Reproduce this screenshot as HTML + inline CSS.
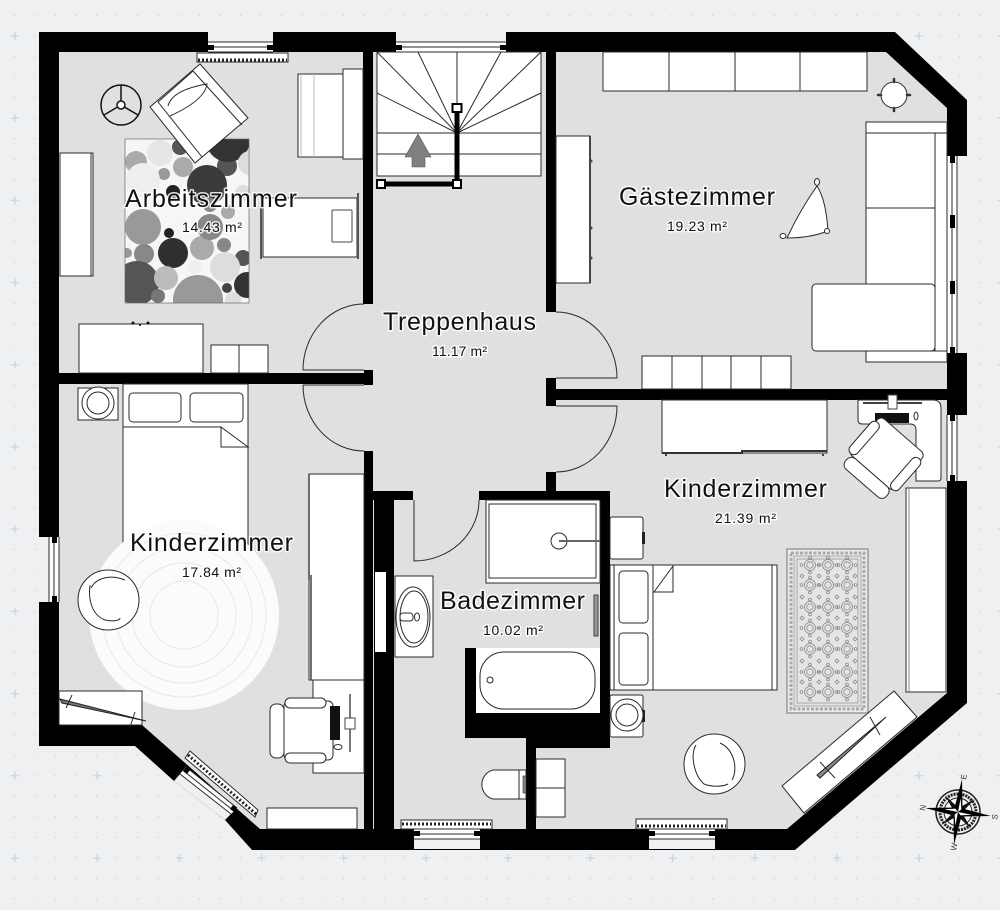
<!DOCTYPE html>
<html><head><meta charset="utf-8"><style>
html,body{margin:0;padding:0;background:#eff0f2;width:1000px;height:910px;overflow:hidden}
svg{display:block}
.f{fill:#fff;stroke:#2a2a2a;stroke-width:1}
.n{fill:none;stroke:#2a2a2a;stroke-width:1}
.t{font-family:"Liberation Sans",sans-serif;fill:#111;stroke:#fff;stroke-width:3;stroke-opacity:.85;paint-order:stroke;stroke-linejoin:round}
.b{font-size:25px}.s{font-size:14px}
.c{font-family:"Liberation Sans",sans-serif;font-size:8px;fill:#333}
</style></head><body>
<svg width="1000" height="910" viewBox="0 0 1000 910" xmlns="http://www.w3.org/2000/svg">
<defs>
<pattern id="dots" width="20.55" height="20.55" patternUnits="userSpaceOnUse" x="4" y="5"><circle cx="10.3" cy="10.3" r=".8" fill="#cfd2d4"/></pattern>
<pattern id="plus" width="82.2" height="82.2" patternUnits="userSpaceOnUse" x="-26" y="-5"><path d="M41 37V45M37 41H45" stroke="#c6d5e8" stroke-width="1.3"/></pattern>
<clipPath id="rc"><rect x="125" y="139" width="124" height="164"/></clipPath>
<g id="med" fill="none" stroke="#8a8a8a" stroke-width=".8"><circle r="5.5"/><circle r="3.2"/><circle cx="-8.500" r="1.400"/><circle cx="8.500" r="1.400"/><circle cy="-7.500" r="1.400"/><circle cy="7.500" r="1.400"/></g>
<path id="dia" d="M0 -2L2 0L0 2L-2 0Z" fill="none" stroke="#8a8a8a" stroke-width=".8"/>
<g id="chair">
<rect x="-18" y="-30" width="49" height="59" rx="5" class="f"/>
<rect x="-17" y="-33" width="41" height="10" rx="5" class="f"/>
<rect x="-17" y="22" width="41" height="10" rx="5" class="f"/>
<rect x="-32" y="-27" width="14" height="54" rx="6" class="f"/>
</g>
</defs>
<rect width="1000" height="910" fill="#eff0f2"/>
<rect width="1000" height="910" fill="url(#dots)"/>
<rect width="1000" height="910" fill="url(#plus)"/>

<!-- shell -->
<path d="M39 32H895L967 100V703L795 850H252L225 820L174 781L135 746H39Z" fill="#000"/>
<path d="M59 52H886L947 108V693L787 829H260L142 725H59Z" fill="#e0e0e0"/>

<!-- walls -->
<g fill="#000">
<rect x="363" y="52" width="10" height="252"/>
<rect x="59" y="373" width="314" height="11"/>
<rect x="364" y="370" width="9" height="15"/>
<rect x="364" y="451" width="9" height="378"/>
<rect x="546" y="52" width="10" height="260"/>
<rect x="546" y="378" width="10" height="28"/>
<rect x="556" y="389" width="391" height="11"/>
<rect x="546" y="472" width="10" height="20"/>
<rect x="373" y="491" width="40" height="9"/>
<rect x="479" y="491" width="131" height="9"/>
<rect x="600" y="491" width="10" height="257"/>
<rect x="526" y="738" width="84" height="10"/>
<rect x="526" y="748" width="10" height="81"/>
<rect x="374" y="500" width="20" height="329"/>
<rect x="465" y="713" width="135" height="25"/>
<rect x="465" y="648" width="11" height="90"/>
</g>
<rect x="375" y="572" width="11" height="80" fill="#fff"/>

<!-- windows -->
<g>
<rect x="208" y="32" width="65" height="20" fill="#eff0f2"/><rect x="208" y="42" width="65" height="10" fill="#fff"/>
<path d="M208 42H273M208 47H273M208 52H273" class="n"/><path d="M208 45H214V50H208ZM267 45H273V50H267Z" fill="#000"/>
<rect x="396" y="32" width="110" height="20" fill="#eff0f2"/><rect x="396" y="42" width="110" height="10" fill="#fff"/>
<path d="M396 42H506M396 47H506M396 52H506" class="n"/><path d="M396 45H402V50H396ZM500 45H506V50H500Z" fill="#000"/>
<rect x="39" y="537" width="20" height="65" fill="#eff0f2"/><rect x="49" y="537" width="10" height="65" fill="#fff"/>
<path d="M49 537V602M54 537V602M59 537V602" class="n"/><path d="M52 537H57V543H52ZM52 596H57V602H52Z" fill="#000"/>
<rect x="947" y="156" width="20" height="197" fill="#eff0f2"/><rect x="947" y="156" width="10" height="197" fill="#fff"/>
<path d="M947 156V353M952 156V353M957 156V353" class="n"/><path d="M950 156H955V163H950ZM950 215H955V228H950ZM950 281H955V294H950ZM950 347H955V353H950Z" fill="#000"/>
<rect x="947" y="415" width="20" height="66" fill="#eff0f2"/><rect x="947" y="415" width="10" height="66" fill="#fff"/>
<path d="M947 415V481M952 415V481M957 415V481" class="n"/><path d="M950 415H955V421H950ZM950 475H955V481H950Z" fill="#000"/>
<rect x="414" y="829" width="66" height="20" fill="#eff0f2"/><rect x="414" y="829" width="66" height="10" fill="#fff"/>
<path d="M414 829H480M414 834H480M414 839H480" class="n"/><path d="M414 831H420V836H414ZM474 831H480V836H474Z" fill="#000"/>
<rect x="649" y="829" width="66" height="20" fill="#eff0f2"/><rect x="649" y="829" width="66" height="10" fill="#fff"/>
<path d="M649 829H715M649 834H715M649 839H715" class="n"/><path d="M649 831H655V836H649ZM709 831H715V836H709Z" fill="#000"/>
<path d="M186 767L174 781L225 820L237 808Z" fill="#eff0f2"/>
<path d="M186 767L180 774L231 814L237 808Z" fill="#fff"/>
<path d="M186 767L237 808M183 770.500L234 811M180 774L231 814" class="n"/>
<path d="M186 767L183 771L187 774L190 770ZM237 808L234 812L230 809L233 805Z" fill="#000"/>
</g>

<!-- doors -->
<path d="M364 304A61 66 0 0 0 303 370H364" class="n"/>
<path d="M303 385A61 66 0 0 0 364 451" class="n"/><path d="M303 385H364" class="n"/>
<path d="M556 312A61 66 0 0 1 617 378H556" class="n"/>
<path d="M556 406H617A61 66 0 0 1 556 472" class="n"/>
<path d="M414 500V561A65 61 0 0 0 479 500" class="n"/>

<!-- stairs -->
<rect x="377" y="52" width="164" height="124" class="f"/>
<path d="M377 133H541M377 154H541M457 133L377 52M457 133L418 52M457 133V52M457 133L501 52M457 133L541 52M457 133L377 93M457 133L541 93" class="n"/>
<path d="M418 134L405 157H412V167H425V157H431Z" fill="#808080" stroke="#555" stroke-width=".6"/>
<path d="M457 108V184H381" fill="none" stroke="#000" stroke-width="5"/>
<rect x="452.500" y="104" width="9" height="8" fill="#fff" stroke="#000" stroke-width="2"/>
<rect x="377" y="180" width="8" height="8" fill="#fff" stroke="#000" stroke-width="2"/>
<rect x="453" y="180" width="8" height="8" fill="#fff" stroke="#000" stroke-width="2"/>

<!-- Arbeitszimmer -->
<rect x="197" y="53" width="91" height="9" class="f"/>
<path d="M198 60H287" stroke="#222" stroke-width="3" stroke-dasharray="2 2" fill="none"/>
<rect x="125" y="139" width="124" height="164" fill="#f6f6f6"/>
<g clip-path="url(#rc)">
<circle cx="136" cy="162" r="11" fill="#aaa"/><circle cx="160" cy="153" r="13" fill="#e6e6e6"/><circle cx="183" cy="167" r="10" fill="#aaa"/><circle cx="164" cy="174" r="6" fill="#999"/><circle cx="227" cy="166" r="10" fill="#555"/><circle cx="228" cy="140" r="22" fill="#333"/><circle cx="207" cy="185" r="20" fill="#3a3a3a"/><circle cx="173" cy="192" r="7" fill="#222"/><circle cx="250" cy="163" r="12" fill="#ddd"/><circle cx="143" cy="180" r="17" fill="#eee"/><circle cx="243" cy="193" r="8" fill="#ddd"/><circle cx="143" cy="227" r="18" fill="#999"/><circle cx="169" cy="233" r="5" fill="#222"/><circle cx="173" cy="253" r="15" fill="#2f2f2f"/><circle cx="202" cy="248" r="12" fill="#aaa"/><circle cx="224" cy="245" r="7" fill="#888"/><circle cx="144" cy="254" r="10" fill="#888"/><circle cx="127" cy="253" r="5" fill="#999"/><circle cx="210" cy="227" r="13" fill="#888"/><circle cx="228" cy="212" r="7" fill="#aaa"/><circle cx="243" cy="258" r="8" fill="#555"/><circle cx="225" cy="267" r="15" fill="#ddd"/><circle cx="195" cy="267" r="7" fill="#eee"/><circle cx="137" cy="283" r="22" fill="#555"/><circle cx="166" cy="278" r="12" fill="#bbb"/><circle cx="198" cy="300" r="25" fill="#999"/><circle cx="158" cy="296" r="7" fill="#777"/><circle cx="247" cy="285" r="13" fill="#333"/><circle cx="227" cy="288" r="5" fill="#444"/><circle cx="233" cy="300" r="8" fill="#ddd"/><circle cx="180" cy="147" r="8" fill="#555"/><circle cx="210" cy="205" r="7" fill="#888"/>
</g>
<rect x="125" y="139" width="124" height="164" fill="none" stroke="#666" stroke-width=".7"/>
<circle cx="121" cy="105" r="20" fill="none" stroke="#111" stroke-width="1.5"/><circle cx="121" cy="105" r="4" fill="#fff" stroke="#111" stroke-width="1.5"/>
<path d="M121 101V85M117.500 107L104 115M124.500 107L138 115" stroke="#111" stroke-width="1.5"/>
<polygon points="200,64 248,118 195,163 150,107" class="f"/>
<path d="M158 102L202 157M193 71L242 125M158 102L193 71M168 106Q172 90 207 84Q205 100 170 116" class="n"/>
<rect x="60" y="153" width="33" height="123" class="f"/><path d="M91 153V276" class="n"/>
<rect x="298" y="74" width="50" height="83" class="f"/><path d="M301 74V157M314 74V157" stroke="#bbb" fill="none"/>
<rect x="343" y="69" width="20" height="90" class="f"/>
<rect x="263" y="198" width="94" height="59" class="f"/>
<path d="M261 193V259M358 193V259" stroke="#555" stroke-width="2"/>
<rect x="332" y="210" width="20" height="32" rx="1" fill="#fff" stroke="#444"/>
<rect x="79" y="324" width="124" height="49" class="f"/>
<circle cx="133" cy="323" r="1.500" fill="#111"/><circle cx="148" cy="323" r="1.500" fill="#111"/><circle cx="140" cy="325" r="1" fill="#111"/>
<rect x="211" y="345" width="57" height="28" class="f"/><path d="M239 345V373" class="n"/>

<!-- Gaestezimmer -->
<rect x="603" y="52" width="264" height="39" class="f"/>
<path d="M669 52V91M735 52V91M800 52V91" class="n"/>
<rect x="556" y="136" width="34" height="147" class="f"/><path d="M590 136V283" stroke="#444" stroke-width="2"/>
<g fill="#444"><circle cx="591" cy="161" r="1.500"/><circle cx="591" cy="228" r="1.500"/><circle cx="591" cy="258" r="1.500"/></g>
<circle cx="894" cy="95" r="13" class="f"/>
<path d="M894 79V82M894 108V111M878 95H881M907 95H910" stroke="#333" stroke-width="2.500" stroke-linecap="round"/>
<path d="M817 186Q826 200 828 231Q810 238 787 238Q800 210 817 186Z" class="f"/>
<ellipse cx="817" cy="182" rx="2.500" ry="3.500" class="f"/><circle cx="827" cy="231" r="2.500" class="f"/><ellipse cx="783" cy="236" rx="3" ry="2.500" class="f"/>
<rect x="866" y="122" width="81" height="240" class="f"/>
<path d="M866 133H947M866 351H947M935 133V351M866 208H935" class="n"/>
<rect x="812" y="284" width="123" height="67" rx="4" class="f"/>
<rect x="642" y="356" width="149" height="33" class="f"/><path d="M672 356V389M702 356V389M731 356V389M761 356V389" class="n"/>

<!-- Kinderzimmer right -->
<rect x="662" y="400" width="165" height="53" class="f"/>
<path d="M662 453H742V451H827" stroke="#333" stroke-width="2" fill="none"/><circle cx="666" cy="455" r="1" fill="#111"/><circle cx="823" cy="455" r="1" fill="#111"/>
<path d="M858 400H933Q941 400 941 408V478Q941 481 938 481H916V430Q916 424 910 424H862Q858 424 858 420Z" class="f"/>
<path d="M863 403H922" stroke="#444" stroke-width="2"/><rect x="888" y="395" width="9" height="14" fill="#fff" stroke="#444"/>
<rect x="875" y="413" width="34" height="10" fill="#111"/><ellipse cx="916" cy="416" rx="2" ry="4" class="f"/>
<use href="#chair" transform="translate(883 459) rotate(-49)"/>
<rect x="906" y="488" width="40" height="204" class="f"/><path d="M909 488V692" stroke="#888"/>
<rect x="610" y="517" width="33" height="42" rx="2" class="f"/><rect x="642" y="532" width="3" height="12" fill="#222"/>
<rect x="610" y="695" width="33" height="42" rx="2" class="f"/><rect x="642" y="710" width="3" height="12" fill="#222"/>
<circle cx="627" cy="715" r="16" class="f"/><circle cx="627" cy="715" r="11" class="f"/>
<rect x="610" y="565" width="167" height="125" class="f"/>
<path d="M614 565V690M653 565V690M772 565V690" class="n"/>
<rect x="619" y="571" width="29" height="52" rx="4" class="f"/><rect x="619" y="633" width="29" height="52" rx="4" class="f"/>
<path d="M673 566L654 592H673Z" class="f"/>
<rect x="787" y="549" width="81" height="164" fill="#ececec" stroke="#999" stroke-width="1.500"/>
<rect x="791" y="553" width="73" height="156" fill="none" stroke="#aaa" stroke-width="3" stroke-dasharray="3 1.500"/>
<rect x="794" y="556" width="67" height="150" fill="#e4e4e4" stroke="#999" stroke-width=".8"/>
<rect x="797" y="559" width="61" height="144" fill="none" stroke="#999" stroke-width=".8"/>
<g>
<use href="#med" x="810" y="565"/><use href="#med" x="828" y="565"/><use href="#med" x="847" y="565"/>
<use href="#med" x="810" y="585"/><use href="#med" x="828" y="585"/><use href="#med" x="847" y="585"/>
<use href="#med" x="810" y="607"/><use href="#med" x="828" y="607"/><use href="#med" x="847" y="607"/>
<use href="#med" x="810" y="628"/><use href="#med" x="828" y="628"/><use href="#med" x="847" y="628"/>
<use href="#med" x="810" y="649"/><use href="#med" x="828" y="649"/><use href="#med" x="847" y="649"/>
<use href="#med" x="810" y="672"/><use href="#med" x="828" y="672"/><use href="#med" x="847" y="672"/>
<use href="#med" x="810" y="692"/><use href="#med" x="828" y="692"/><use href="#med" x="847" y="692"/>
<use href="#dia" x="802" y="576"/><use href="#dia" x="819" y="576"/><use href="#dia" x="837" y="576"/><use href="#dia" x="855" y="576"/>
<use href="#dia" x="802" y="597"/><use href="#dia" x="819" y="597"/><use href="#dia" x="837" y="597"/><use href="#dia" x="855" y="597"/>
<use href="#dia" x="802" y="618"/><use href="#dia" x="819" y="618"/><use href="#dia" x="837" y="618"/><use href="#dia" x="855" y="618"/>
<use href="#dia" x="802" y="639"/><use href="#dia" x="819" y="639"/><use href="#dia" x="837" y="639"/><use href="#dia" x="855" y="639"/>
<use href="#dia" x="802" y="661"/><use href="#dia" x="819" y="661"/><use href="#dia" x="837" y="661"/><use href="#dia" x="855" y="661"/>
<use href="#dia" x="802" y="682"/><use href="#dia" x="819" y="682"/><use href="#dia" x="837" y="682"/><use href="#dia" x="855" y="682"/>
</g>
<polygon points="782,786 894,691 917,717 804,813" class="f"/>
<path d="M817 775L886 717L820 778Z" fill="#888" stroke="#222"/>
<path d="M820 762L835 778M870 717L880 735" class="n"/>
<path d="M714 734C732 734 745 748 745 764C745 782 730 794 714 794C698 794 684 782 684 764C684 748 698 734 714 734Z" class="f"/>
<path d="M720 743C735 750 738 770 732 780M696 745C690 755 694 775 704 784C712 787 722 787 728 784" class="n"/>
<rect x="636" y="819" width="91" height="10" class="f"/><path d="M637 826H726" stroke="#222" stroke-width="3" stroke-dasharray="2 2" fill="none"/>

<!-- compass -->
<g transform="translate(958 812) rotate(7)">
<circle r="22" fill="#eee" stroke="#222" stroke-width="1.500"/><circle r="18" fill="none" stroke="#222" stroke-width="3" stroke-dasharray="2 1"/><circle r="14" fill="#fafafa" stroke="#222"/>
<path d="M-15 -15L0 -4L15 -15L4 0L15 15L0 4L-15 15L-4 0Z" fill="#111"/>
<path d="M0 -33L4 -4L33 0L4 4L0 33L-4 4L-33 0L-4 -4Z" fill="#000"/>
<path d="M1 -14L3 -3L0 0ZM14 1L3 3L0 0ZM-1 14L-3 3L0 0ZM-14 -1L-3 -3L0 0Z" fill="#fff"/>
</g>
<text class="c" transform="translate(925 811) rotate(-80)">N</text>
<text class="c" transform="translate(966 780) rotate(-80)">E</text>
<text class="c" transform="translate(997 820) rotate(-80)">S</text>
<text class="c" transform="translate(956 851) rotate(-80)">W</text>

<!-- Bad -->
<rect x="486" y="500" width="114" height="83" class="f"/><rect x="489" y="504" width="107" height="74" class="f"/>
<circle cx="559" cy="541" r="8" class="f"/><path d="M559 541H600" stroke="#666" stroke-width="2"/>
<rect x="395" y="576" width="38" height="81" class="f"/>
<ellipse cx="413" cy="617" rx="17" ry="30" class="f"/><ellipse cx="414" cy="617" rx="14" ry="26" class="f"/>
<rect x="400" y="613" width="13" height="8" rx="3" class="f"/><ellipse cx="417" cy="617" rx="2.500" ry="4" class="f"/>
<rect x="594" y="595" width="4" height="41" fill="#999" stroke="#444"/>
<rect x="476" y="648" width="124" height="65" fill="#fff"/>
<rect x="480" y="652" width="115" height="57" rx="24" class="f"/><circle cx="490" cy="680" r="3" class="f"/>
<path d="M519 770H493A15 15 0 0 0 493 799H519Z" class="f"/>
<rect x="519" y="770" width="7" height="29" class="f"/><rect x="523" y="776" width="3" height="17" fill="#888" stroke="#333" stroke-width=".6"/>
<rect x="536" y="759" width="29" height="58" class="f"/><path d="M536 788H565" class="n"/>
<rect x="401" y="820" width="91" height="9" class="f"/><path d="M402 824H491" stroke="#222" stroke-width="3" stroke-dasharray="2 2" fill="none"/>

<!-- Kinderzimmer left -->
<rect x="78" y="388" width="40" height="32" class="f"/><circle cx="98" cy="403" r="16" class="f"/><circle cx="98" cy="403" r="11" class="f"/>
<rect x="123" y="384" width="125" height="168" class="f"/>
<path d="M123 427H221" class="n"/>
<rect x="129" y="393" width="52" height="29" rx="4" class="f"/><rect x="190" y="393" width="53" height="29" rx="4" class="f"/>
<path d="M221 427V447H248Z" class="f"/>
<circle cx="184" cy="615" r="95" fill="#fbfbfb"/>
<g fill="none" stroke="#e8e8e8"><circle cx="184" cy="615" r="34"/><circle cx="184" cy="615" r="52"/><circle cx="184" cy="615" r="68"/><circle cx="184" cy="615" r="82"/></g>
<path d="M108 570C125 570 139 583 139 600C139 617 125 630 108 630C92 630 78 617 78 600C78 583 92 570 108 570Z" class="f"/>
<path d="M90 585C88 600 92 615 105 620C115 622 120 620 120 618M91 588C96 578 110 574 125 580" class="n"/>
<rect x="309" y="474" width="55" height="206" class="f"/><path d="M309 474V580M311 575V680" stroke="#444" stroke-width="1.500" fill="none"/>
<rect x="313" y="680" width="51" height="93" class="f"/>
<use href="#chair" transform="translate(302 731)"/>
<rect x="330" y="706" width="10" height="34" fill="#111"/>
<path d="M350 694V752" stroke="#777" stroke-width="2"/><rect x="345" y="718" width="10" height="11" fill="#fff" stroke="#444"/>
<ellipse cx="338" cy="747" rx="4" ry="2.500" class="f"/>
<path d="M59 691H142V725H59Z" class="f"/>
<path d="M60 699L146 721L62 703Z" fill="#777" stroke="#222"/>
<path d="M72 695L66 708M135 712L130 727" class="n"/>
<polygon points="185,758 190,751 258,810 255,817" class="f"/>
<path d="M188 755L256 814" stroke="#222" stroke-width="3" stroke-dasharray="2 2" fill="none"/>
<rect x="267" y="808" width="90" height="21" class="f"/>

<!-- labels -->
<text class="t b" x="125" y="207" textLength="172" lengthAdjust="spacing">Arbeitszimmer</text>
<text class="t s" x="182" y="232" textLength="60" lengthAdjust="spacing">14.43 m²</text>
<text class="t b" x="383" y="330" textLength="153" lengthAdjust="spacing">Treppenhaus</text>
<text class="t s" x="432" y="356" textLength="55" lengthAdjust="spacing">11.17 m²</text>
<text class="t b" x="619" y="205" textLength="156" lengthAdjust="spacing">Gästezimmer</text>
<text class="t s" x="667" y="231" textLength="60" lengthAdjust="spacing">19.23 m²</text>
<text class="t b" x="664" y="497" textLength="163" lengthAdjust="spacing">Kinderzimmer</text>
<text class="t s" x="715" y="523" textLength="61" lengthAdjust="spacing">21.39 m²</text>
<text class="t b" x="130" y="551" textLength="163" lengthAdjust="spacing">Kinderzimmer</text>
<text class="t s" x="182" y="577" textLength="59" lengthAdjust="spacing">17.84 m²</text>
<text class="t b" x="440" y="609" textLength="145" lengthAdjust="spacing">Badezimmer</text>
<text class="t s" x="483" y="635" textLength="60" lengthAdjust="spacing">10.02 m²</text>
</svg>
</body></html>
